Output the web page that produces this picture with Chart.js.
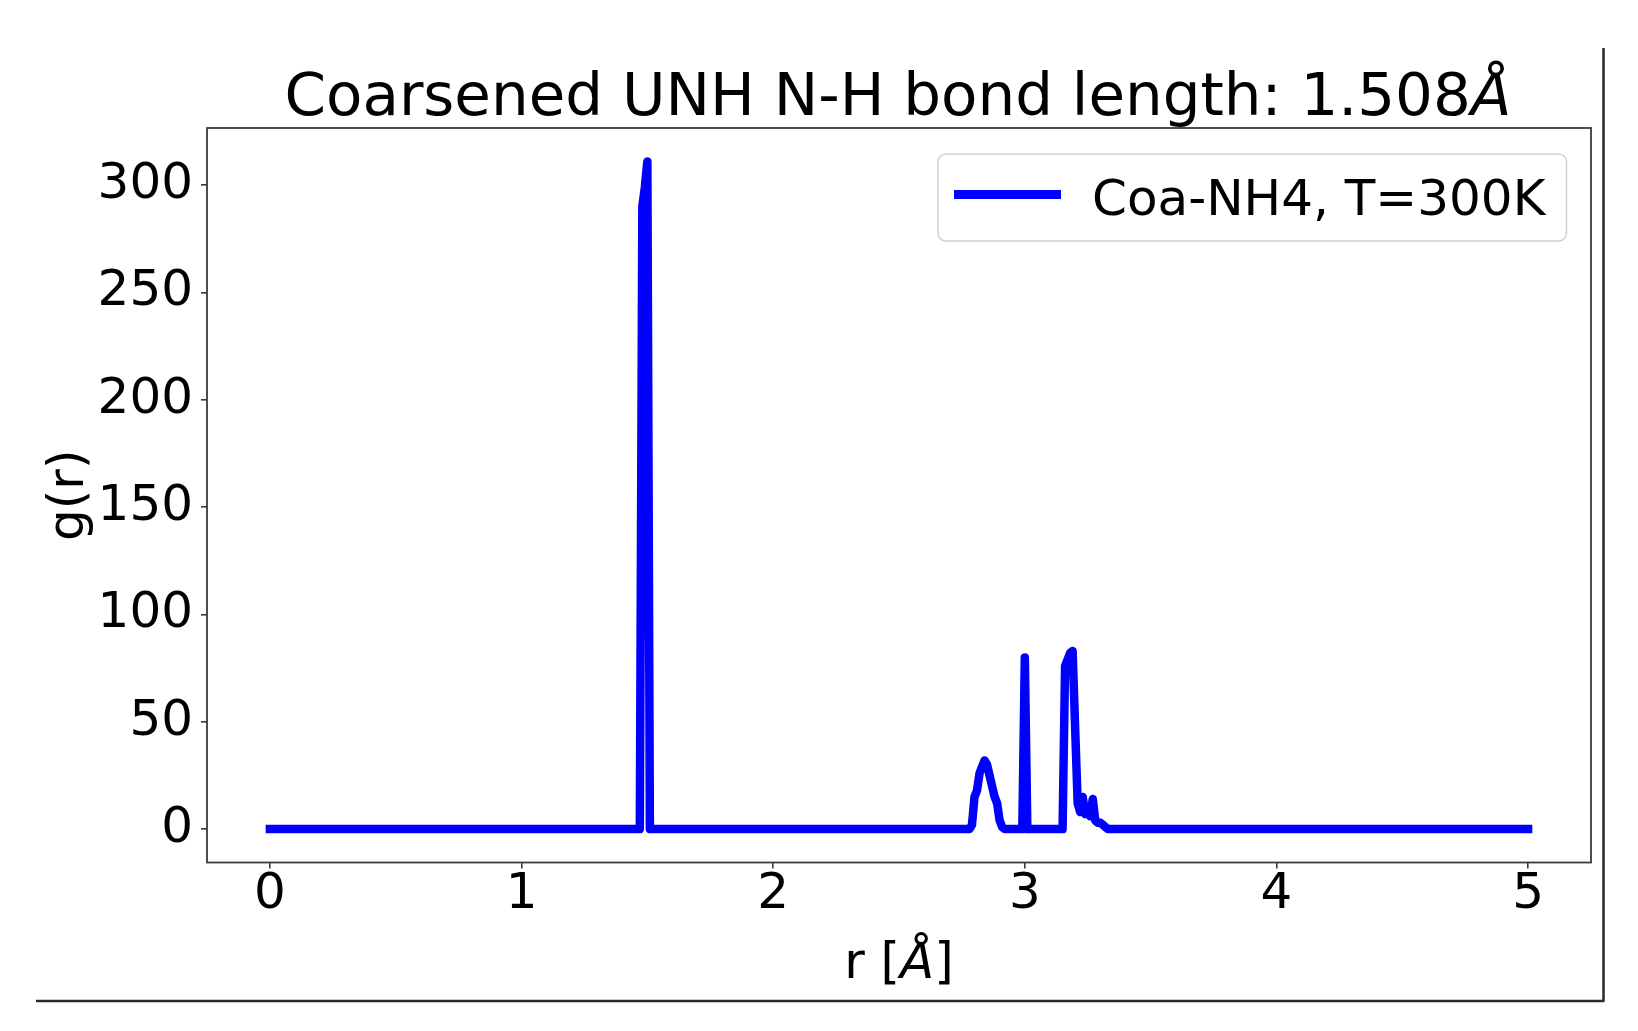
<!DOCTYPE html>
<html>
<head>
<meta charset="utf-8">
<title>Coarsened UNH N-H bond length</title>
<script src="https://cdn.jsdelivr.net/npm/chart.js@4.4.1/dist/chart.umd.min.js"></script>
<style>
  html, body { margin: 0; padding: 0; background: #ffffff; }
  #wrap { width: 1638px; height: 1031px; }
</style>
</head>
<body>
<div id="wrap"><canvas id="grChart" width="1638" height="1031"></canvas></div>
<script>
// g(r) (r in Angstrom)
const rValues = [
  0, 1.47, 1.48, 1.49, 1.50, 1.51,
  2.78, 2.79, 2.80, 2.81, 2.82, 2.83, 2.84, 2.85, 2.86, 2.87, 2.88, 2.89, 2.90, 2.91, 2.92,
  2.99, 3.00, 3.01,
  3.15, 3.16, 3.17, 3.18, 3.19, 3.20, 3.21, 3.22, 3.23, 3.24, 3.25, 3.26, 3.27, 3.28, 3.29, 3.30, 3.31, 3.32, 3.33,
  5.00
];
const gValues = [
  0, 0, 290, 299, 311, 0,
  0, 2, 15, 18, 26, 29, 32, 30, 25, 20, 15, 12, 4, 1, 0,
  0, 80, 0,
  0, 76, 79, 82, 83, 47, 12, 8, 15, 7, 9, 6, 14, 4, 3, 3, 2, 1, 0,
  0
];
const xTicks = [0, 1, 2, 3, 4, 5];
const yTicks = [0, 50, 100, 150, 200, 250, 300];
const seriesLabel = "Coa-NH4, T=300K";
const titleText = "Coarsened UNH N-H bond length: 1.508";

const FONT = "'DejaVu Sans', sans-serif";
const BLUE = "#0000ff";
const AXIS = "#3a3a3a";

// texto con la Å en cursiva (como mathtext)
function drawMixed(ctx, parts, x, y, size, align) {
  let total = 0;
  parts.forEach((p) => {
    ctx.font = (p.italic ? "italic " : "") + size + "px " + FONT;
    p.w = ctx.measureText(p.t).width;
    total += p.w;
  });
  let cx = align === "center" ? x - total / 2 : x;
  ctx.textAlign = "left";
  parts.forEach((p) => {
    ctx.font = (p.italic ? "italic " : "") + size + "px " + FONT;
    ctx.fillText(p.t, cx, y);
    cx += p.w;
  });
}

const decor = {
  id: "decor",
  afterDraw(chart) {
    const ctx = chart.ctx;
    const a = chart.chartArea;
    ctx.save();

    // marco del eje
    ctx.strokeStyle = AXIS;
    ctx.lineWidth = 1.8;
    ctx.strokeRect(a.left, a.top, a.right - a.left, a.bottom - a.top);

    ctx.fillStyle = "#000000";
    ctx.textBaseline = "alphabetic";

    // titulo
    const midX = (a.left + a.right) / 2;
    drawMixed(ctx, [{ t: titleText }, { t: "Å", italic: true }], midX - 1, 115, 59.5, "center");

    // etiqueta eje x
    drawMixed(ctx, [{ t: "r [" }, { t: "Å", italic: true }, { t: "]" }], midX, 978, 50, "center");

    // etiqueta eje y
    ctx.save();
    ctx.translate(83, (a.top + a.bottom) / 2);
    ctx.rotate(-Math.PI / 2);
    ctx.font = "50px " + FONT;
    ctx.textAlign = "center";
    ctx.fillText("g(r)", 0, 0);
    ctx.restore();

    // leyenda
    ctx.beginPath();
    ctx.roundRect(938, 154, 628.5, 87, 8);
    ctx.fillStyle = "rgba(255,255,255,0.8)";
    ctx.fill();
    ctx.strokeStyle = "#d0d0d0";
    ctx.lineWidth = 1.5;
    ctx.stroke();

    ctx.beginPath();
    ctx.moveTo(954, 194.5);
    ctx.lineTo(1061, 194.5);
    ctx.strokeStyle = BLUE;
    ctx.lineWidth = 9;
    ctx.lineCap = "butt";
    ctx.stroke();

    ctx.fillStyle = "#000000";
    ctx.font = "50px " + FONT;
    ctx.textAlign = "left";
    ctx.fillText(seriesLabel, 1092, 214.5);

    // bordes de la figura recortada
    ctx.strokeStyle = "#2a2a2a";
    ctx.lineWidth = 2.5;
    ctx.beginPath();
    ctx.moveTo(1603.5, 48);
    ctx.lineTo(1603.5, 1001);
    ctx.moveTo(36, 1001);
    ctx.lineTo(1604.5, 1001);
    ctx.stroke();

    ctx.restore();
  },
};

const points = rValues.map((r, i) => ({ x: r, y: gValues[i] }));

new Chart(document.getElementById("grChart").getContext("2d"), {
  type: "line",
  data: {
    datasets: [
      {
        label: seriesLabel,
        data: points,
        borderColor: BLUE,
        backgroundColor: BLUE,
        borderWidth: 8.5,
        borderJoinStyle: "round",
        borderCapStyle: "square",
        pointRadius: 0,
        tension: 0,
        fill: false,
      },
    ],
  },
  options: {
    responsive: false,
    animation: false,
    devicePixelRatio: 1,
    layout: { padding: { left: 0, top: 128, right: 47, bottom: 0 } },
    plugins: {
      legend: { display: false },
      title: { display: false },
      tooltip: { enabled: false },
    },
    scales: {
      x: {
        type: "linear",
        min: -0.25,
        max: 5.25,
        afterFit: (s) => { s.height = 168.5; },
        afterBuildTicks: (s) => { s.ticks = xTicks.map((v) => ({ value: v })); },
        grid: { drawOnChartArea: false, drawTicks: true, tickLength: 6, tickColor: AXIS, lineWidth: 1.6 },
        border: { display: false },
        ticks: {
          color: "#000000",
          padding: 2,
          maxRotation: 0,
          font: { family: FONT, size: 50, lineHeight: 1 },
          callback: (v) => String(v),
        },
      },
      y: {
        type: "linear",
        min: -15.55,
        max: 326.6,
        afterFit: (s) => { s.width = 207; },
        afterBuildTicks: (s) => { s.ticks = yTicks.map((v) => ({ value: v })); },
        grid: { drawOnChartArea: false, drawTicks: true, tickLength: 6, tickColor: AXIS, lineWidth: 1.6 },
        border: { display: false },
        ticks: {
          color: "#000000",
          padding: 8,
          font: { family: FONT, size: 50, lineHeight: 1 },
          callback: (v) => String(v),
        },
      },
    },
  },
  plugins: [decor],
});
</script>
</body>
</html>
